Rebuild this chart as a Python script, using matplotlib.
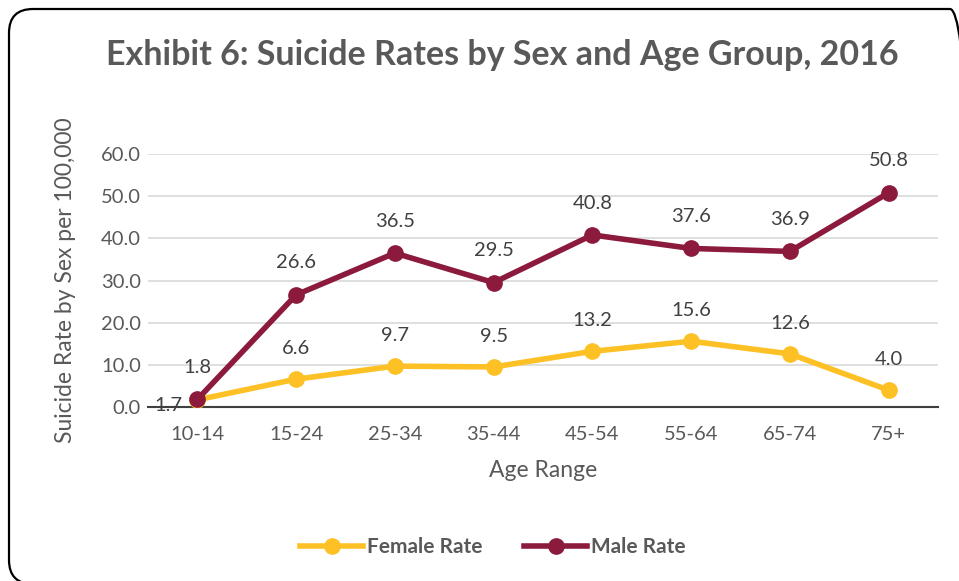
import matplotlib.pyplot as plt
from matplotlib.patches import FancyBboxPatch

plt.rcParams['font.family'] = ['Lato', 'DejaVu Sans']

ages = ["10-14", "15-24", "25-34", "35-44", "45-54", "55-64", "65-74", "75+"]
female = [1.7, 6.6, 9.7, 9.5, 13.2, 15.6, 12.6, 4.0]
male = [1.8, 26.6, 36.5, 29.5, 40.8, 37.6, 36.9, 50.8]

gray = "#595959"
gold = "#FDC125"
maroon = "#8B1A3C"

fig = plt.figure(figsize=(9.59, 5.81), dpi=100)
W, H = 959, 581

# rounded frame around the whole chart, in pixels so the corners stay round
frame = FancyBboxPatch((9, -3), 965, 575,
                       boxstyle="round,pad=0,rounding_size=24",
                       transform=None, fill=False,
                       edgecolor="black", linewidth=1.6)
fig.patches.append(frame)

ax = fig.add_axes([148 / W, 1 - 407 / H, 790 / W, 253 / H])
x = list(range(len(ages)))

ax.plot(x, female, color=gold, lw=4, marker="o", ms=11, label="Female Rate", zorder=3)
ax.plot(x, male, color=maroon, lw=4, marker="o", ms=11, label="Male Rate", zorder=4)

for i, v in enumerate(female):
    if i == 0:
        ax.annotate(f"{v:.1f}", (i, v), xytext=(-21, -4), textcoords="offset points",
                    ha="center", va="center", fontsize=14.5, color="#404040")
    else:
        ax.annotate(f"{v:.1f}", (i, v), xytext=(0, 22), textcoords="offset points",
                    ha="center", va="center", fontsize=14.5, color="#404040")
for i, v in enumerate(male):
    ax.annotate(f"{v:.1f}", (i, v), xytext=(0, 23), textcoords="offset points",
                ha="center", va="center", fontsize=14.5, color="#404040")

ax.set_xlim(-0.5, len(ages) - 0.5)
ax.set_ylim(0, 60)
ax.set_yticks([0, 10, 20, 30, 40, 50, 60])
ax.set_yticklabels([f"{t:.1f}" for t in ax.get_yticks()])
ax.set_xticks(x)
ax.set_xticklabels(ages)
ax.tick_params(axis="both", length=0, labelsize=14.5, labelcolor=gray)
ax.tick_params(axis="x", pad=14)
ax.tick_params(axis="y", pad=5)
ax.grid(axis="y", color="#D9D9D9", lw=1.2)
ax.set_axisbelow(True)
for s in ["top", "right", "left"]:
    ax.spines[s].set_visible(False)
ax.spines["bottom"].set_color("#404040")
ax.spines["bottom"].set_linewidth(1.5)

ax.set_xlabel("Age Range", fontsize=16.5, color=gray, labelpad=12)
ax.set_ylabel("Suicide Rate by Sex per 100,000", fontsize=16.5, color=gray, labelpad=18)

fig.text(502 / W, 1 - 55 / H, "Exhibit 6: Suicide Rates by Sex and Age Group, 2016",
         ha="center", va="center", fontsize=24.5, fontweight="bold", color=gray)

leg = fig.legend(loc="center", bbox_to_anchor=(493 / W, 1 - 547 / H), ncol=2,
                 frameon=False, fontsize=15, handlelength=3, columnspacing=2,
                 handletextpad=0.2)
for t in leg.get_texts():
    t.set_color(gray)
    t.set_fontweight("bold")

fig.savefig("out.png", dpi=100)
